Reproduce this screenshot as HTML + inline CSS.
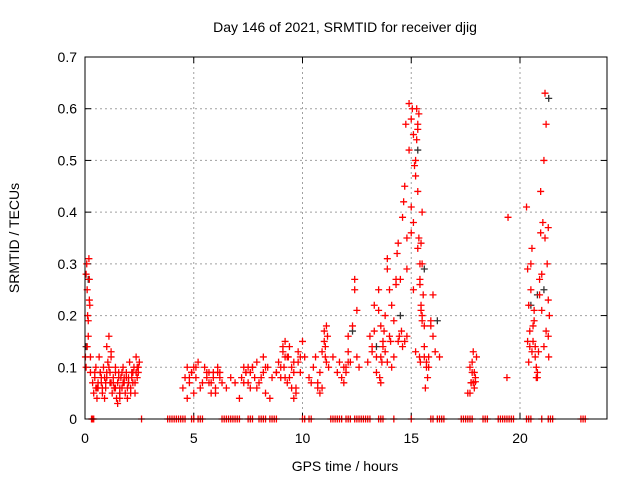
<!DOCTYPE html>
<html><head><meta charset="utf-8"><style>
body{margin:0;background:#fff;}
svg{display:block;font-family:"Liberation Sans",sans-serif;}
</style></head><body>
<svg id="chart" width="640" height="480">
<rect width="640" height="480" fill="#fff"/>
<text x="345" y="32" font-size="14" text-anchor="middle">Day 146 of 2021, SRMTID for receiver djig</text>
<text x="345" y="471" font-size="14" text-anchor="middle">GPS time / hours</text>
<text transform="translate(19,238) rotate(-90)" font-size="14" text-anchor="middle">SRMTID / TECUs</text>
<g id="grid"></g>
<g id="ticks"></g>
<g id="black"></g>
<g id="red"></g>
<rect x="85" y="57" width="522" height="362" fill="none" stroke="#000"/>
</svg>
<script>
const xTicks=[0,5,10,15,20];
const yTicks=[0,0.1,0.2,0.3,0.4,0.5,0.6,0.7];
const yTickLabels=["0","0.1","0.2","0.3","0.4","0.5","0.6","0.7"];
const redT=[0.02,0.05,0.08,0.1,0.12,0.15,0.18,0.2,0.22,0.25,0.05,0.1,0.15,0.2,0.25,
0.35,0.4,0.45,0.5,0.55,0.6,0.65,0.7,0.75,0.8,0.85,0.9,0.95,1.0,1.05,1.1,1.15,1.2,1.25,1.3,1.35,1.4,1.45,1.5,1.55,1.6,1.65,1.7,1.75,1.8,1.85,1.9,1.95,2.0,2.05,2.1,2.15,2.2,2.25,2.3,2.35,2.4,2.45,2.5,0.5,0.7,0.9,1.1,1.3,1.5,1.7,1.9,2.1,2.3,2.45,1.0,1.2,1.4,1.6,
0.45,0.6,0.8,1.0,1.2,1.4,1.6,1.8,2.0,2.2,2.4,0.55,0.75,0.95,1.15,1.35,1.55,1.75,1.95,2.15,2.35,
4.5,4.6,4.7,4.8,4.9,5.0,5.1,5.2,5.3,5.5,5.6,5.7,5.8,5.9,6.0,6.1,6.2,6.3,6.5,6.7,6.9,4.7,4.9,5.1,5.6,5.8,6.0,6.2,4.8,5.0,5.4,5.7,5.9,6.1,
7.1,7.2,7.3,7.4,7.5,7.6,7.7,7.8,7.9,8.0,8.2,8.3,8.4,8.6,8.8,8.9,7.3,7.6,7.9,8.2,8.5,8.8,7.4,7.5,7.7,8.1,8.3,
9.0,9.1,9.2,9.3,9.4,9.5,9.6,9.7,9.8,9.9,10.0,9.1,9.3,9.5,9.7,9.9,9.2,9.6,9.0,9.2,9.4,9.6,9.8,9.15,9.35,
10.1,10.3,10.5,10.7,10.8,10.9,11.0,11.1,11.2,10.4,10.6,10.8,11.0,11.1,11.05,11.15,10.7,10.9,11.05,
11.4,11.6,11.8,11.9,12.0,12.1,12.2,12.3,12.4,12.5,12.6,12.1,12.4,12.5,11.7,12.0,11.9,12.1,
13.0,13.1,13.2,13.3,13.4,13.5,13.6,13.7,13.8,13.9,14.0,14.1,14.2,14.3,14.4,13.2,13.4,13.6,13.8,14.0,14.2,14.4,13.5,13.7,13.9,14.1,14.3,13.3,13.6,13.9,13.55,13.65,13.75,14.05,14.35,14.45,
14.5,14.6,14.7,14.8,14.9,15.0,15.1,15.2,15.25,15.3,15.35,15.4,15.45,15.5,15.55,15.6,14.6,14.8,15.0,15.1,15.2,15.3,15.35,15.4,15.45,15.5,15.6,14.7,14.9,15.1,15.3,15.5,15.4,15.2,15.0,14.8,15.5,15.45,14.55,14.65,14.75,15.05,15.15,15.25,15.3,15.38,15.42,
15.6,15.7,15.8,15.9,16.0,16.1,16.3,15.7,15.8,15.9,16.0,15.65,15.75,
17.6,17.7,17.75,17.8,17.85,17.9,17.95,18.0,17.7,17.8,17.9,17.75,17.85,17.95,
19.4,19.45,
20.3,20.35,20.4,20.45,20.5,20.55,20.6,20.65,20.7,20.75,20.8,20.85,20.9,20.95,21.0,21.05,21.1,21.15,21.2,21.25,21.3,21.35,20.35,20.5,20.6,20.7,20.8,20.9,21.0,21.1,21.2,21.3,20.4,20.55,20.75,20.95,21.15,21.3,21.32,20.45,20.65,20.85,21.05];
const redV=[0.12,0.28,0.3,0.25,0.2,0.16,0.31,0.27,0.22,0.12,0.1,0.14,0.19,0.23,0.09,
0.07,0.05,0.08,0.1,0.04,0.06,0.12,0.09,0.07,0.05,0.1,0.08,0.06,0.09,0.11,0.16,0.07,0.13,0.05,0.08,0.06,0.1,0.04,0.07,0.09,0.05,0.08,0.06,0.1,0.07,0.05,0.09,0.04,0.08,0.11,0.06,0.09,0.07,0.1,0.05,0.12,0.08,0.09,0.11,0.06,0.09,0.04,0.1,0.07,0.03,0.09,0.08,0.05,0.07,0.1,0.14,0.12,0.06,0.04,
0.09,0.07,0.06,0.08,0.07,0.09,0.06,0.08,0.07,0.09,0.1,0.06,0.08,0.07,0.09,0.06,0.08,0.07,0.06,0.08,0.09,
0.06,0.08,0.1,0.07,0.09,0.05,0.1,0.11,0.06,0.1,0.08,0.07,0.05,0.09,0.06,0.1,0.08,0.07,0.06,0.08,0.07,0.04,0.09,0.08,0.09,0.07,0.05,0.09,0.08,0.1,0.07,0.09,0.08,0.09,
0.04,0.08,0.1,0.09,0.07,0.06,0.1,0.08,0.11,0.07,0.09,0.05,0.1,0.08,0.09,0.11,0.07,0.09,0.06,0.12,0.04,0.09,0.09,0.1,0.1,0.08,0.1,
0.1,0.14,0.15,0.12,0.08,0.06,0.11,0.05,0.13,0.09,0.15,0.13,0.07,0.1,0.06,0.12,0.08,0.04,0.08,0.12,0.14,0.09,0.11,0.1,0.12,
0.12,0.08,0.1,0.06,0.09,0.13,0.15,0.18,0.1,0.07,0.12,0.05,0.17,0.11,0.14,0.16,0.07,0.06,0.12,
0.12,0.09,0.08,0.07,0.1,0.13,0.11,0.18,0.27,0.21,0.1,0.16,0.25,0.12,0.11,0.09,0.1,0.11,
0.11,0.16,0.14,0.22,0.12,0.25,0.18,0.14,0.2,0.31,0.16,0.22,0.19,0.27,0.34,0.13,0.09,0.07,0.13,0.25,0.12,0.15,0.21,0.15,0.29,0.1,0.26,0.17,0.12,0.11,0.08,0.11,0.17,0.15,
0.32,0.16,0.27,0.39,0.45,0.29,0.61,0.58,0.55,0.5,0.6,0.44,0.35,0.26,0.22,0.19,0.24,0.18,0.14,0.35,0.41,0.38,0.47,0.56,0.59,0.3,0.21,0.2,0.12,0.15,0.52,0.25,0.33,0.4,0.27,0.13,0.36,0.16,0.3,0.34,0.17,0.42,0.57,0.6,0.49,0.54,0.57,
0.12,0.11,0.14,0.1,0.12,0.19,0.16,0.13,0.12,0.11,0.1,0.18,0.24,
0.06,0.08,0.05,0.1,0.07,0.09,0.13,0.06,0.08,0.12,0.05,0.11,0.09,0.07,
0.07,0.072,
0.08,0.39,0.41,0.29,0.22,0.17,0.25,0.33,0.15,0.19,0.12,0.1,0.08,0.13,0.24,0.36,0.28,0.38,0.14,0.63,0.57,0.3,0.37,0.2,0.15,0.3,0.18,0.14,0.09,0.27,0.21,0.5,0.17,0.23,0.11,0.13,0.08,0.44,0.35,0.16,0.12,0.14,0.21];
const blackT=[0.05,0.15,1.6,2.0,12.3,13.4,14.5,15.3,15.6,16.2,20.5,20.8,21.1,21.32];
const blackV=[0.14,0.27,0.05,0.07,0.17,0.14,0.2,0.52,0.29,0.19,0.22,0.24,0.25,0.62];
const zeroT=[0.3,0.35,0.4,2.6,3.8,3.9,4.0,4.1,4.2,4.3,4.4,4.5,4.6,4.9,5.0,5.2,5.3,5.4,6.3,6.4,6.5,6.6,6.7,6.8,6.9,7.0,7.1,7.5,7.6,7.7,8.0,8.1,8.2,8.3,8.5,8.6,8.7,8.8,10.0,10.1,10.3,10.4,11.3,11.4,11.5,11.6,11.7,11.8,12.0,12.1,12.2,12.4,12.5,12.6,12.7,12.8,12.9,13.0,13.1,13.5,13.6,13.7,14.2,15.0,15.9,16.0,16.2,16.3,16.4,16.5,17.3,17.4,17.5,17.6,17.7,17.8,18.3,18.4,18.5,19.0,19.1,19.2,19.3,19.4,19.5,19.6,19.7,20.3,20.4,20.5,21.0,21.3,21.4,21.5,22.8,22.9,23.0];
const X=t=>85+t*(522/24), Y=v=>419-v*(362/0.7);
const NS='http://www.w3.org/2000/svg';
const grid=document.getElementById('grid'), ticks=document.getElementById('ticks');
function mk(tag,attrs,parent){const e=document.createElementNS(NS,tag);for(const k in attrs)e.setAttribute(k,attrs[k]);parent.appendChild(e);return e;}
xTicks.forEach(t=>{
 const x=X(t);
 if(t>0){const g=mk('line',{x1:x,y1:57,x2:x,y2:419,stroke:'#a0a0a0','stroke-dasharray':'2,3'},grid);
 
 }
 mk('line',{x1:x,y1:419,x2:x,y2:413,stroke:'#000'},ticks);
 mk('line',{x1:x,y1:57,x2:x,y2:63,stroke:'#000'},ticks);
 const l=mk('text',{x:x,y:443,'font-size':14,'text-anchor':'middle'},ticks);l.textContent=t;
 
 
});
yTicks.forEach((v,i)=>{
 const y=Y(v);
 if(v>0&&v<0.7){const g=mk('line',{x1:85,y1:y,x2:607,y2:y,stroke:'#a0a0a0','stroke-dasharray':'2,3'},grid);
 
 }
 mk('line',{x1:85,y1:y,x2:91,y2:y,stroke:'#000'},ticks);
 mk('line',{x1:607,y1:y,x2:601,y2:y,stroke:'#000'},ticks);
 const l=mk('text',{x:77,y:y+5,'font-size':14,'text-anchor':'end'},ticks);l.textContent=yTickLabels[i];
 
 
});
function plot(T,V,color,gid,name){
 const g=document.getElementById(gid);
 T.forEach((t,i)=>{const x=X(t),y=Y(V[i]);
  const p=mk('path',{d:`M${x-3.5} ${y}h7M${x} ${y-3.5}v7`,stroke:color,'stroke-width':1.3,fill:'none'},g);
  
  
 });
}
plot(blackT,blackV,'#333','black','black-point');
plot(redT,redV,'#ff0000','red','srmtid-point');
plot(zeroT,zeroT.map(()=>0),'#ff0000','red','zero-point');
</script>
</body></html>
